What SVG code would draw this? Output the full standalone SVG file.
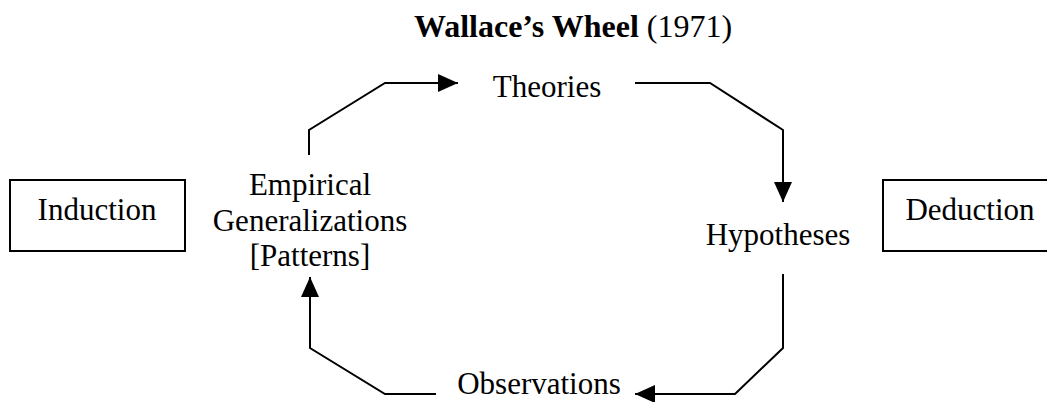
<svg xmlns="http://www.w3.org/2000/svg" width="1047" height="402" viewBox="0 0 1047 402">
<style>
text{font-family:"Liberation Serif","Times New Roman",serif;font-size:31px;fill:#000;text-anchor:middle}
.box{fill:#fff;stroke:#000;stroke-width:2}
.conn{fill:none;stroke:#000;stroke-width:2}
</style>
<defs>
<marker id="ah" markerUnits="userSpaceOnUse" markerWidth="20" markerHeight="18" refX="20" refY="9" orient="auto">
<path d="M0,0 L20,9 L0,18 z" fill="#000"/>
</marker>
</defs>
<rect width="1047" height="402" fill="#fff"/>
<g id="title"><text x="573" y="37" style="font-size:32px"><tspan font-weight="bold">Wallace’s Wheel</tspan> (1971)</text></g>
<g id="connectors">
<path class="conn" d="M309,155 V130 L385,83 H458" marker-end="url(#ah)"/>
<path class="conn" d="M635,83 H710 L783,130 V202" marker-end="url(#ah)"/>
<path class="conn" d="M783,274 V348 L735,394 H635" marker-end="url(#ah)"/>
<path class="conn" d="M436,394 H385 L310,348 V277" marker-end="url(#ah)"/>
</g>
<g id="theories"><text x="547" y="97">Theories</text></g>
<g id="hypotheses"><text x="778" y="245">Hypotheses</text></g>
<g id="observations"><text x="539" y="394">Observations</text></g>
<g id="generalizations"><text x="310" y="195">Empirical</text><text x="310" y="231">Generalizations</text><text x="310" y="266">[Patterns]</text></g>
<g id="induction"><rect class="box" x="10" y="180" width="175" height="71"/><text x="97" y="220">Induction</text></g>
<g id="deduction"><rect class="box" x="883" y="180" width="180" height="71"/><text x="970" y="220">Deduction</text></g>
</svg>
